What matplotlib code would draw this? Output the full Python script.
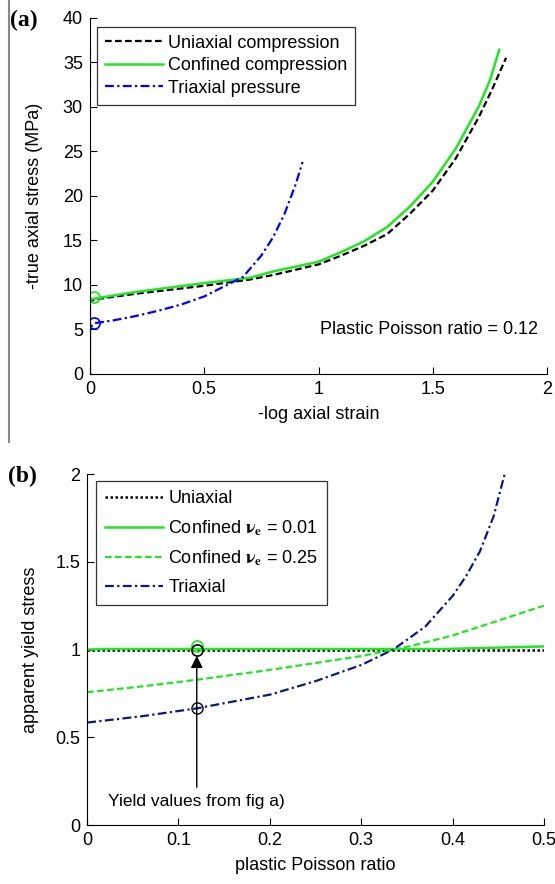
import matplotlib
matplotlib.use("Agg")
import matplotlib.pyplot as plt
from matplotlib.lines import Line2D

plt.rcParams['font.family'] = ['Liberation Sans', 'DejaVu Sans']
plt.rcParams['mathtext.fontset'] = 'stix'

# ---- panel (a): stress vs strain ----
uni_strain = [0.0, 0.0, 0.005, 0.03, 0.2, 0.5, 0.7, 0.8, 1.0, 1.1, 1.2, 1.3, 1.4, 1.5, 1.6, 1.7, 1.76, 1.82]
uni_stress = [0.0, 8.0, 8.2, 8.4, 9.0, 9.9, 10.6, 11.1, 12.3, 13.3, 14.4, 15.7, 18.0, 20.6, 24.2, 28.8, 32.0, 35.5]
con_strain = [0.0, 0.0, 0.005, 0.03, 0.2, 0.5, 0.7, 0.8, 1.0, 1.1, 1.2, 1.3, 1.4, 1.5, 1.6, 1.7, 1.75, 1.79]
con_stress = [0.0, 8.3, 8.4, 8.5, 9.2, 10.2, 10.8, 11.5, 12.6, 13.7, 14.9, 16.5, 18.8, 21.6, 25.3, 30.0, 33.0, 36.4]
tri_strain = [0.0, 0.0, 0.02, 0.1, 0.2, 0.3, 0.4, 0.5, 0.6, 0.67, 0.75, 0.8, 0.85, 0.9, 0.93]
tri_stress = [0.0, 5.2, 5.7, 6.0, 6.5, 7.1, 7.8, 8.7, 10.0, 10.9, 13.3, 15.3, 17.9, 21.3, 23.8]
yield_a_x = [0.02, 0.02]
yield_a_y = [8.6, 5.7]

# ---- panel (b): apparent yield stress vs plastic Poisson ratio ----
nu = [0.0, 0.06, 0.12, 0.2, 0.25, 0.3, 0.335, 0.37, 0.4, 0.415, 0.43, 0.445, 0.457]
tri_b = [0.584, 0.62, 0.665, 0.743, 0.82, 0.912, 1.0, 1.13, 1.305, 1.42, 1.56, 1.76, 2.0]
nu_c = [0.0, 0.06, 0.12, 0.2, 0.3, 0.35, 0.4, 0.45, 0.5]
con25_b = [0.757, 0.79, 0.828, 0.884, 0.963, 1.015, 1.08, 1.165, 1.25]
nu_flat = [0.0, 0.02, 0.39, 0.5]
con01_b = [1.0, 1.003, 1.003, 1.018]
uni_b = [1.0, 1.0, 1.0, 1.0]

fs = 13
fig = plt.figure(figsize=(5.55, 8.84), dpi=100)
green = '#22e622'

ax1 = fig.add_axes([0.162, 0.577, 0.824, 0.403])
ax1.plot(uni_strain, uni_stress, color='black', ls=(0, (3, 1.5)), lw=1.6, label='Uniaxial compression')
ax1.plot(con_strain, con_stress, color=green, lw=1.8, label='Confined compression')
ax1.plot(tri_strain, tri_stress, color='blue', ls=(0, (4, 1.5, 1, 1.5)), lw=1.6, label='Triaxial pressure')
ax1.plot(yield_a_x[:1], yield_a_y[:1], 'o', mfc='none', mec=green, ms=8, mew=1.2)
ax1.plot(yield_a_x[1:], yield_a_y[1:], 'o', mfc='none', mec='blue', ms=8, mew=1.2)
ax1.set_xlim(0, 2)
ax1.set_ylim(0, 40)
ax1.set_xticks([0, 0.5, 1, 1.5, 2])
ax1.set_xticklabels(['0', '0.5', '1', '1.5', '2'])
ax1.set_yticks(range(0, 41, 5))
ax1.set_xlabel('-log axial strain', fontsize=fs, labelpad=6)
ax1.set_ylabel('-true axial stress (MPa)', fontsize=fs, labelpad=14)
ax1.text(1.96, 5, 'Plastic Poisson ratio = 0.12', ha='right', va='center', fontsize=fs)
leg1 = ax1.legend(loc='upper left', bbox_to_anchor=(0.015, 0.975), fontsize=fs, handlelength=3.2,
                  frameon=True, fancybox=False, edgecolor='black', borderpad=0.45, labelspacing=0.3,
                  handletextpad=0.3, borderaxespad=0)
leg1.get_frame().set_linewidth(0.9)

ax2 = fig.add_axes([0.157, 0.0667, 0.823, 0.397])
ax2.plot(nu_flat, uni_b, color='black', ls=(0, (1, 1)), lw=1.8, label='Uniaxial')
ax2.plot(nu_flat, con01_b, color=green, lw=1.8, label=r'Confined $\mathbf{\nu_e}$ = 0.01')
ax2.plot(nu_c, con25_b, color=green, ls=(0, (3, 1.5)), lw=1.6, label=r'Confined $\mathbf{\nu_e}$ = 0.25')
ax2.plot(nu, tri_b, color='#0b1a80', ls=(0, (4, 1.5, 1, 1.5)), lw=1.6, label='Triaxial')
ax2.plot([0.12], [1.02], 'o', mfc='none', mec=green, ms=8, mew=1.2)
ax2.plot([0.12], [1.0], 'o', mfc='none', mec='black', ms=8, mew=1.2)
ax2.plot([0.12], [0.665], 'o', mfc='none', mec='black', ms=8, mew=1.0)
ax2.annotate('', xy=(0.12, 0.98), xytext=(0.12, 0.2),
             arrowprops=dict(arrowstyle='-|>', color='black', lw=1.0, mutation_scale=18))
ax2.text(0.023, 0.135, 'Yield values from fig a)', ha='left', va='center', fontsize=fs - 0.5)
ax2.set_xlim(0, 0.5)
ax2.set_ylim(0, 2)
ax2.set_xticks([0, 0.1, 0.2, 0.3, 0.4, 0.5])
ax2.set_xticklabels(['0', '0.1', '0.2', '0.3', '0.4', '0.5'])
ax2.set_yticks([0, 0.5, 1, 1.5, 2])
ax2.set_yticklabels(['0', '0.5', '1', '1.5', '2'])
ax2.set_xlabel('plastic Poisson ratio', fontsize=fs, labelpad=6)
ax2.set_ylabel('apparent yield stress', fontsize=fs, labelpad=12)
leg2 = ax2.legend(loc='upper left', bbox_to_anchor=(0.02, 0.98), fontsize=fs, handlelength=3.2,
                  frameon=True, fancybox=False, edgecolor='black', borderpad=0.5, labelspacing=0.6,
                  handletextpad=0.3, borderaxespad=0)
leg2.get_frame().set_linewidth(0.9)

for ax in (ax1, ax2):
    ax.spines['top'].set_visible(False)
    ax.spines['right'].set_visible(False)
    ax.tick_params(direction='in', length=5, labelsize=fs, width=0.8, pad=5)

fig.text(0.018, 0.977, '(a)', fontsize=17, fontweight='bold', family='Liberation Serif', va='center')
fig.text(0.014, 0.461, '(b)', fontsize=17, fontweight='bold', family='Liberation Serif', va='center')
fig.add_artist(Line2D([0.016, 0.016], [1.0, 0.5], transform=fig.transFigure, color='#888888', lw=1.5))

fig.savefig('out.png', dpi=100)
